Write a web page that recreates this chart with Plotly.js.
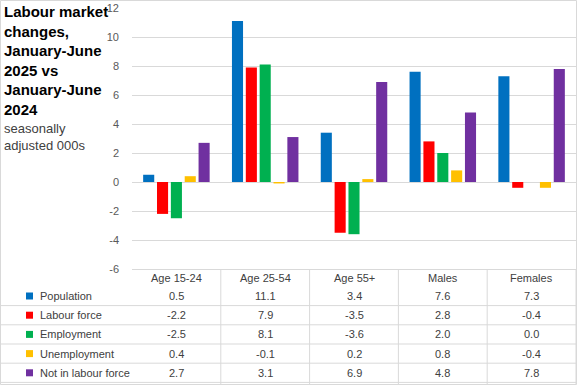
<!DOCTYPE html>
<html>
<head>
<meta charset="utf-8">
<script src="https://cdn.plot.ly/plotly-3.0.1.min.js"></script>
<style>html,body{margin:0;padding:0;background:#fff;}#chart{width:577px;height:385px;}</style>
</head>
<body>
<div id="chart"></div>
<script>
const categories = ['Age 15-24', 'Age 25-54', 'Age 55+', 'Males', 'Females'];
const seriesNames = ['Population', 'Labour force', 'Employment', 'Unemployment', 'Not in labour force'];
const population = [0.5, 11.1, 3.4, 7.6, 7.3];
const labourForce = [-2.2, 7.9, -3.5, 2.8, -0.4];
const employment = [-2.5, 8.1, -3.6, 2.0, 0.0];
const unemployment = [0.4, -0.1, 0.2, 0.8, -0.4];
const notInLabourForce = [2.7, 3.1, 6.9, 4.8, 7.8];
const yTicks = [-6, -4, -2, 0, 2, 4, 6, 8, 10, 12];
const titleLines = ['Labour market', 'changes,', 'January-June', '2025 vs', 'January-June', '2024'];
const subtitleLines = ['seasonally', 'adjusted 000s'];

const seriesValues = [population, labourForce, employment, unemployment, notInLabourForce];
const seriesColors = ['#0070C0', '#FF0000', '#00B050', '#FFC000', '#7030A0'];

const W = 577, H = 385, L = 132, R = 1, T = 8, B = 116;
const PW = W - L - R, PH = H - T - B;
const px = p => (p - L) / PW;
const py = p => (H - B - p) / PH;

const textFont = 'Liberation Sans, Arial, sans-serif';
const textColor = '#404040';
const lineColor = '#d9d9d9';

const traces = seriesNames.map((name, i) => ({
  type: 'bar',
  name: name,
  x: categories,
  y: seriesValues[i],
  marker: {color: seriesColors[i]},
  hoverinfo: 'x+y+name'
}));

const annotations = [];
const shapes = [];

annotations.push({
  xref: 'paper', yref: 'paper', x: px(2), y: py(1), xanchor: 'left', yanchor: 'top',
  text: titleLines.map(s => '<b>' + s + '</b>').join('<br>'), align: 'left', showarrow: false,
  font: {family: 'Liberation Sans Narrow, Arial Narrow, Liberation Sans, Arial, sans-serif', size: 15, color: '#000'}
});
annotations.push({
  xref: 'paper', yref: 'paper', x: px(2), y: py(119), xanchor: 'left', yanchor: 'top',
  text: subtitleLines.join('<br>'), align: 'left', showarrow: false,
  font: {family: textFont, size: 13, color: textColor}
});

const headerY = 278;
const rowY0 = 296, rowH = 19.2;

categories.forEach(c => {
  annotations.push({
    xref: 'x', yref: 'paper', x: c, y: py(headerY), xanchor: 'center', yanchor: 'middle',
    text: c, showarrow: false, font: {family: textFont, size: 11, color: textColor}
  });
});

seriesNames.forEach((name, i) => {
  const cy = rowY0 + rowH * i;
  annotations.push({
    xref: 'paper', yref: 'paper', x: px(38), y: py(cy), xanchor: 'left', yanchor: 'middle',
    text: name, showarrow: false, font: {family: textFont, size: 11, color: textColor}
  });
  shapes.push({
    type: 'rect', xref: 'paper', yref: 'paper', x0: px(26), x1: px(33), y0: py(cy - 3.5), y1: py(cy + 3.5),
    fillcolor: seriesColors[i], line: {width: 0}
  });
  categories.forEach((c, j) => {
    annotations.push({
      xref: 'x', yref: 'paper', x: c, y: py(cy), xanchor: 'center', yanchor: 'middle',
      text: seriesValues[i][j].toFixed(1), showarrow: false,
      font: {family: textFont, size: 11, color: textColor}
    });
  });
  // line below row
  const ly = cy + rowH / 2;
  shapes.push({
    type: 'line', xref: 'paper', yref: 'paper', x0: px(0), x1: px(576), y0: py(ly), y1: py(ly),
    line: {color: lineColor, width: 1}
  });
});

// vertical table lines at category boundaries
for (let k = 0; k < categories.length; k++) {
  shapes.push({
    type: 'line', xref: 'x', yref: 'paper', x0: k + 0.5, x1: k + 0.5, y0: py(269), y1: py(384),
    line: {color: lineColor, width: 1}
  });
}

// outer chart border
shapes.push({
  type: 'rect', xref: 'paper', yref: 'paper', x0: px(0.5), x1: px(576.5), y0: py(0.5), y1: py(384.5),
  line: {color: lineColor, width: 1}, fillcolor: 'rgba(0,0,0,0)'
});

const layout = {
  width: W, height: H,
  margin: {l: L, r: R, t: T, b: B, pad: 0},
  paper_bgcolor: '#fff', plot_bgcolor: '#fff',
  barmode: 'group', bargap: 0.22, bargroupgap: 0.2,
  showlegend: false,
  xaxis: {
    type: 'category', range: [-0.5, 4.5], showticklabels: false, showgrid: false,
    showline: true, linecolor: lineColor, linewidth: 1, ticks: '', zeroline: false, fixedrange: true
  },
  yaxis: {
    range: [-6, 12], tickvals: yTicks, ticktext: yTicks.map(String), showgrid: true,
    gridcolor: lineColor, gridwidth: 1, zeroline: true, zerolinecolor: lineColor, zerolinewidth: 1,
    ticks: '', ticklabelstandoff: 12, showline: false,
    tickfont: {family: textFont, size: 11, color: '#595959'}, fixedrange: true
  },
  annotations: annotations,
  shapes: shapes
};

Plotly.newPlot('chart', traces, layout, {displayModeBar: false, staticPlot: true});
</script>
</body>
</html>
